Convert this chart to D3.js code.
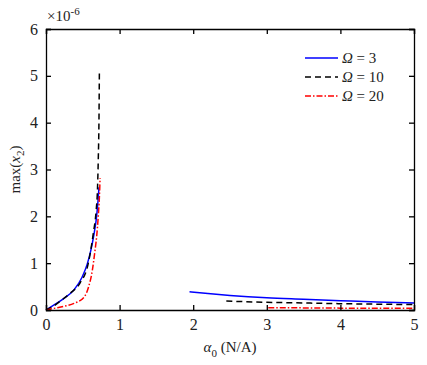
<!DOCTYPE html>
<html><head><meta charset="utf-8">
<script src="https://cdn.jsdelivr.net/npm/d3@7"></script>
<style>body{margin:0;background:#fff}svg{display:block}text{font-family:"Liberation Serif","Times New Roman",serif;fill:#222}</style>
</head><body>
<svg id="c" width="427" height="365"></svg>
<script>
const xTicks = [0,1,2,3,4,5];
const yTicks = [0,1,2,3,4,5,6];
const seriesNames = ["3","10","20"];
const colors = ["#0000ff","#000000","#ff0000"];
const dashes = [null,"6,4","6,2,1.5,2"];
// left branches
const blueLX = [0,0.11,0.245,0.38,0.49,0.56,0.61,0.65,0.68,0.70,0.72];
const blueLY = [0,0.11,0.25,0.43,0.7,0.98,1.28,1.6,1.9,2.2,2.62];
const blackLX = [0,0.1,0.21,0.33,0.46,0.575,0.643,0.68,0.70,0.71,0.72,0.725];
const blackLY = [0,0.08,0.21,0.36,0.57,1.0,1.64,2.1,2.6,3.2,4.1,5.05];
const redLX = [0,0.11,0.25,0.38,0.52,0.58,0.63,0.66,0.69,0.71,0.725,0.735];
const redLY = [0,0.035,0.08,0.14,0.28,0.5,0.85,1.2,1.6,2.0,2.4,2.82];
// right branches
const blueRX = [1.95,2.2,2.5,3,3.5,4,4.5,5];
const blueRY = [0.39,0.35,0.31,0.26,0.23,0.2,0.17,0.15];
const blackRX = [2.45,3,3.5,4,4.5,5];
const blackRY = [0.19,0.165,0.15,0.135,0.125,0.115];
const redRX = [3.02,3.5,4,4.5,5];
const redRY = [0.05,0.045,0.04,0.04,0.035];

const svg = d3.select("#c");
const L=46,T=29,W=368,H=281;
const x = d3.scaleLinear().domain([0,5]).range([L,L+W]);
const y = d3.scaleLinear().domain([0,6]).range([T+H,T]);
const g = svg.append("g");

const branches = [
  [blueLX,blueLY,0],[blackLX,blackLY,1],[redLX,redLY,2],
  [blueRX,blueRY,0],[blackRX,blackRY,1],[redRX,redRY,2]
];
const line = d3.line().x(d=>x(d[0])).y(d=>y(d[1])).curve(d3.curveMonotoneX);
branches.forEach(([xs,ys,i])=>{
  const pts = xs.map((v,k)=>[v,ys[k]]);
  g.append("path").attr("d",line(pts)).attr("fill","none")
   .attr("stroke",colors[i]).attr("stroke-width",1.5)
   .attr("stroke-dasharray",dashes[i]);
});

// axes
const axBottom = d3.axisBottom(x).tickValues(xTicks).tickSize(-5).tickPadding(9).tickFormat(d3.format("d"));
const axLeft = d3.axisLeft(y).tickValues(yTicks).tickSize(-5).tickPadding(8).tickFormat(d3.format("d"));
const axTop = d3.axisTop(x).tickValues(xTicks).tickSize(-5).tickFormat("");
const axRight = d3.axisRight(y).tickValues(yTicks).tickSize(-5).tickFormat("");
[[axBottom,`translate(0,${T+H})`],[axLeft,`translate(${L},0)`],[axTop,`translate(0,${T})`],[axRight,`translate(${L+W},0)`]].forEach(([a,tr])=>{
  const s = svg.append("g").attr("transform",tr).call(a);
  s.select(".domain").attr("stroke","#000").attr("stroke-width",1.3);
  s.selectAll(".tick line").attr("stroke","#000").attr("stroke-width",1.3);
  s.selectAll("text").style("font-family","Liberation Serif").style("font-size","16px").attr("fill","#222");
});

// exponent
const ex = svg.append("text").attr("x",L+1).attr("y",T-8).style("font-size","15px");
ex.append("tspan").text("×10");
ex.append("tspan").attr("dy",-6).style("font-size","11px").text("-6");

// x label
const xl = svg.append("text").attr("x",L+W/2).attr("y",352).attr("text-anchor","middle").style("font-size","15px");
xl.append("tspan").style("font-style","italic").text("α");
xl.append("tspan").attr("dy",5).style("font-size","11px").text("0");
xl.append("tspan").attr("dy",-5).text(" (N/A)");

// y label
const yl = svg.append("text").attr("transform",`translate(20,${T+H/2}) rotate(-90)`).attr("text-anchor","middle").style("font-size","15px");
yl.append("tspan").text("max(");
yl.append("tspan").style("font-style","italic").text("x");
yl.append("tspan").attr("dy",4).style("font-size","11px").text("2");
yl.append("tspan").attr("dy",-4).text(")");

// legend
seriesNames.forEach((n,i)=>{
  const yy = 58+i*19;
  svg.append("line").attr("x1",305).attr("x2",338).attr("y1",yy).attr("y2",yy)
    .attr("stroke",colors[i]).attr("stroke-width",1.5).attr("stroke-dasharray",dashes[i]);
  const t = svg.append("text").attr("x",342).attr("y",yy+5).style("font-size","15px");
  t.append("tspan").style("font-style","italic").text("Ω");
  t.append("tspan").text(" = "+n);
});
</script>
</body></html>
